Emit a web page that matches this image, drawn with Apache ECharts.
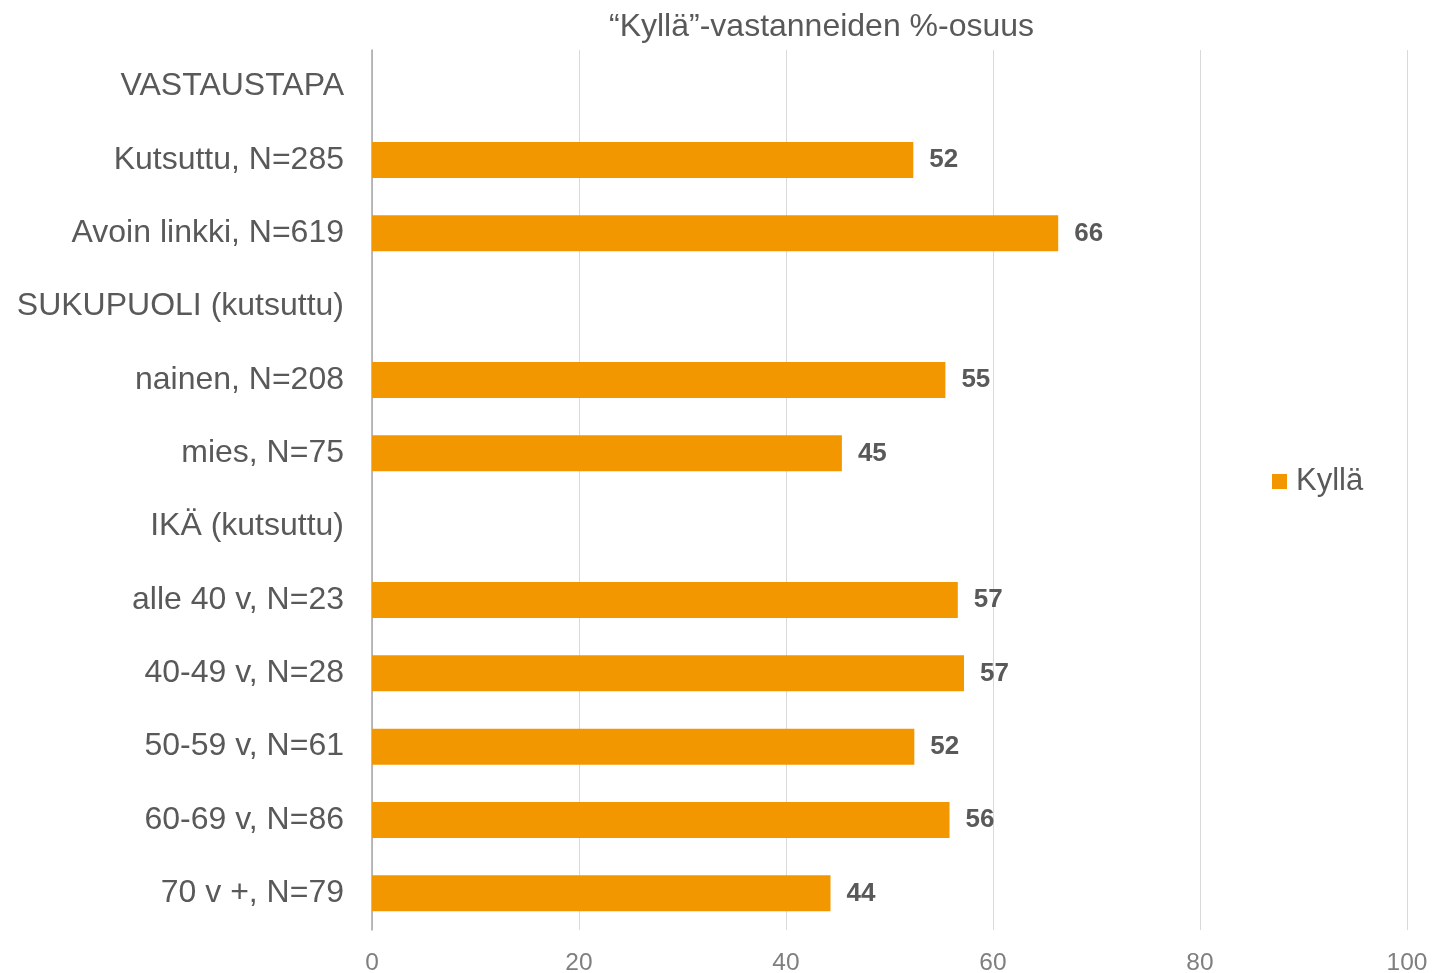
<!DOCTYPE html>
<html>
<head>
<meta charset="utf-8">
<script src="https://cdn.jsdelivr.net/npm/echarts@6/dist/echarts.min.js"></script>
<style>
html,body{margin:0;padding:0;background:#fff;}
#chart{width:1434px;height:973px;}
</style>
</head>
<body>
<div id="chart"></div>
<script>
const categories = [
  "VASTAUSTAPA",
  "Kutsuttu, N=285",
  "Avoin linkki, N=619",
  "SUKUPUOLI (kutsuttu)",
  "nainen, N=208",
  "mies, N=75",
  "IKÄ (kutsuttu)",
  "alle 40 v, N=23",
  "40-49 v, N=28",
  "50-59 v, N=61",
  "60-69 v, N=86",
  "70 v +, N=79"
];
const kyllaValues = ["-", 52.3, 66.3, "-", 55.4, 45.4, "-", 56.6, 57.2, 52.4, 55.8, 44.3];
const xTicks = [0, 20, 40, 60, 80, 100];
const seriesName = "Kyllä";
const titleText = "“Kyllä”-vastanneiden %-osuus";

const chart = echarts.init(document.getElementById('chart'), null, {renderer: 'canvas'});
const font = "'Liberation Sans', Arial, sans-serif";
chart.setOption({
  animation: false,
  backgroundColor: '#ffffff',
  title: {
    text: titleText,
    left: 604,
    top: 6,
    textStyle: {fontFamily: font, fontSize: 32, fontWeight: 'normal', color: '#595959'}
  },
  legend: {
    data: [seriesName],
    orient: 'vertical',
    left: 1272,
    top: 466,
    padding: 0,
    itemWidth: 15,
    itemHeight: 15,
    icon: 'rect',
    textStyle: {fontFamily: font, fontSize: 31, color: '#595959', padding: [0, 0, 0, 4]}
  },
  grid: {left: 372, right: 27, top: 50, bottom: 43, containLabel: false, outerBoundsMode: 'none'},
  xAxis: {
    type: 'value',
    min: xTicks[0],
    max: xTicks[xTicks.length - 1],
    interval: xTicks[1] - xTicks[0],
    axisLine: {show: false},
    axisTick: {show: false},
    splitLine: {show: true, lineStyle: {color: '#d9d9d9', width: 1}},
    axisLabel: {fontFamily: font, fontSize: 24.5, color: '#7f7f7f', margin: 21}
  },
  yAxis: {
    type: 'category',
    data: categories,
    inverse: true,
    axisLine: {show: true, lineStyle: {color: '#a6a6a6', width: 1.5}},
    axisTick: {show: false},
    axisLabel: {fontFamily: font, fontSize: 32, color: '#595959', margin: 28, padding: [6, 0, 0, 0]}
  },
  series: [{
    name: seriesName,
    type: 'bar',
    data: kyllaValues,
    barWidth: 36,
    itemStyle: {color: '#f39700'},
    label: {
      show: true,
      position: 'right',
      distance: 16,
      fontFamily: font,
      fontSize: 26,
      fontWeight: 'bold',
      color: '#595959',
      padding: [6, 0, 0, 0],
      formatter: p => Math.round(p.value)
    }
  }]
});
</script>
</body>
</html>
